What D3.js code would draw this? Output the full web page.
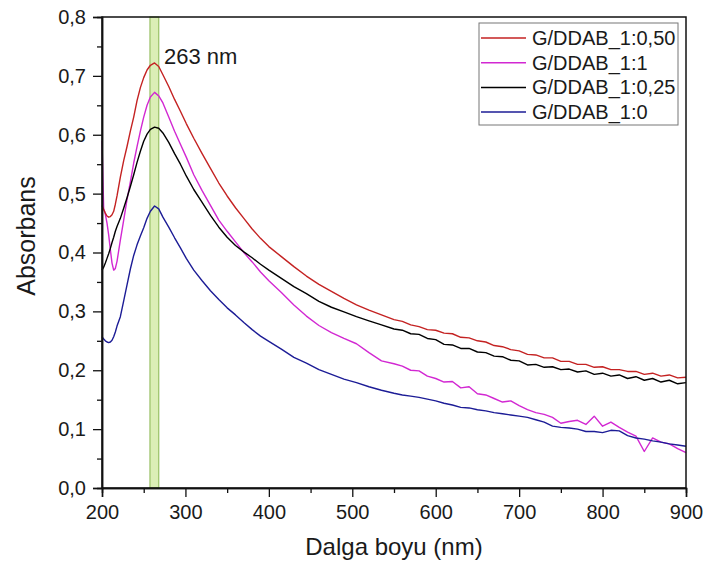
<!DOCTYPE html>
<html>
<head>
<meta charset="utf-8">
<script src="https://cdn.jsdelivr.net/npm/d3@7"></script>
<style>
  body { margin: 0; background: #fff; }
  text { font-family: "Liberation Sans", Arial, sans-serif; fill: #1a1a1a; }
</style>
</head>
<body>
<script>
// wavelength grid (nm) shared by all four spectra
var wavelength = [200,202,204,206,208,210,212,214,216,218,
  222,226,230,234,238,242,246,250,254,258,
  263,268,273,280,287,294,301,
  310,320,330,340,350,360,370,380,390,400,
  415,430,445,460,475,490,505,520,535,550,
  560,570,580,590,600,610,620,630,640,650,660,670,680,690,700,
  710,720,730,740,750,760,770,780,790,800,810,820,830,840,850,860,870,880,890,900];

var seriesNames = ["G/DDAB_1:0,50", "G/DDAB_1:1", "G/DDAB_1:0,25", "G/DDAB_1:0"];
var seriesColors = ["#c42222", "#d228d2", "#000000", "#1c1c96"];

var abs050 = [.480,.473,.467,.462,.460,.461,.464,.470,.482,.496,
  .528,.556,.580,.606,.630,.658,.680,.697,.710,.718,
  .722,.716,.702,.682,.660,.640,.619,
  .594,.568,.543,.518,.496,.476,.458,.440,.424,.410,
  .393,.376,.360,.346,.334,.322,.311,.302,.294,.286,
  .283,.277,.274,.269,.268,.263,.262,.256,.255,.250,.248,.242,.240,.235,.233,
  .227,.226,.221,.221,.215,.215,.210,.210,.205,.206,.201,.201,.198,.198,.193,.195,.190,.192,.187,.188];

var abs1 = [.590,.475,.465,.450,.430,.405,.382,.370,.373,.385,
  .421,.455,.490,.520,.552,.580,.606,.630,.650,.664,
  .672,.666,.654,.630,.606,.584,.562,
  .532,.505,.480,.455,.436,.418,.400,.384,.367,.352,
  .332,.311,.292,.276,.264,.254,.245,.230,.216,.211,
  .207,.200,.199,.190,.186,.180,.181,.170,.172,.160,.158,.152,.146,.148,.140,
  .133,.128,.125,.120,.110,.113,.115,.108,.122,.105,.112,.103,.095,.088,.062,.085,.078,.075,.067,.060];

var abs025 = [.370,.375,.382,.390,.398,.407,.417,.426,.436,.444,
  .458,.475,.493,.512,.532,.553,.572,.589,.601,.609,
  .613,.611,.603,.587,.568,.550,.530,
  .507,.485,.463,.443,.426,.412,.401,.391,.380,.370,
  .356,.342,.330,.317,.307,.299,.291,.284,.277,.270,
  .268,.262,.261,.254,.252,.244,.243,.237,.237,.231,.230,.224,.223,.217,.216,
  .209,.210,.205,.206,.201,.202,.197,.199,.193,.195,.190,.192,.186,.189,.183,.186,.180,.183,.177,.179];

var abs0 = [.257,.253,.250,.248,.247,.248,.251,.257,.265,.275,
  .291,.318,.345,.372,.395,.413,.428,.442,.458,.470,
  .479,.474,.460,.443,.425,.408,.390,
  .370,.352,.335,.320,.306,.294,.281,.269,.258,.249,
  .236,.222,.212,.201,.193,.185,.179,.172,.166,.161,
  .158,.156,.154,.151,.148,.144,.141,.137,.136,.133,.131,.128,.126,.124,.122,
  .120,.116,.112,.105,.103,.102,.100,.096,.096,.094,.098,.097,.089,.085,.083,.080,.078,.075,.073,.071];

var seriesValues = [abs050, abs1, abs025, abs0];
var drawOrder = [1, 3, 2, 0]; // red drawn last, on top

var peakBand = [257.5, 268];
var peakLabel = "263 nm";
var xTicks = [200, 300, 400, 500, 600, 700, 800, 900];
var yTicks = [0, 0.1, 0.2, 0.3, 0.4, 0.5, 0.6, 0.7, 0.8];

function init(){

    var W = 703, H = 567;
    var pl = 102, pr = 686, pt = 17, pb = 488;

    var svg = d3.select("body").append("svg")
        .attr("width", W)
        .attr("height", H);

    var x = d3.scaleLinear().domain([200, 900]).range([pl, pr]);
    var y = d3.scaleLinear().domain([0, 0.8]).range([pb, pt]);

    // highlighted peak band
    svg.append("rect")
        .attr("x", x(peakBand[0]))
        .attr("y", pt)
        .attr("width", x(peakBand[1]) - x(peakBand[0]))
        .attr("height", pb - pt)
        .attr("fill", "#dbeeb6")
        .attr("stroke", "#98c066")
        .attr("stroke-width", 1.2);

    var line = d3.line()
        .x(function(d){ return x(d[0]); })
        .y(function(d){ return y(d[1]); });

    drawOrder.forEach(function(k){
        var pts = wavelength.map(function(w, i){ return [w, seriesValues[k][i]]; });
        svg.append("path")
            .datum(pts)
            .attr("fill", "none")
            .attr("stroke", seriesColors[k])
            .attr("stroke-width", 1.4)
            .attr("stroke-linejoin", "round")
            .attr("d", line);
    });

    // frame
    svg.append("rect")
        .attr("x", pl).attr("y", pt)
        .attr("width", pr - pl).attr("height", pb - pt)
        .attr("fill", "none")
        .attr("stroke", "#111")
        .attr("stroke-width", 1.5);

    function comma(d){ return d3.format(".1f")(d).replace(".", ","); }

    // y axis
    svg.append("g")
        .attr("transform", "translate(" + pl + ",0)")
        .call(d3.axisLeft(y).tickValues(yTicks).tickSize(9).tickPadding(7).tickFormat(comma));
    svg.append("g")
        .attr("transform", "translate(" + pl + ",0)")
        .call(d3.axisLeft(y).tickValues(d3.range(0.05, 0.8, 0.1)).tickSize(5).tickFormat(""));

    // x axis
    svg.append("g")
        .attr("transform", "translate(0," + pb + ")")
        .call(d3.axisBottom(x).tickValues(xTicks).tickSize(9).tickPadding(8).tickFormat(d3.format("d")));
    svg.append("g")
        .attr("transform", "translate(0," + pb + ")")
        .call(d3.axisBottom(x).tickValues(d3.range(250, 900, 100)).tickSize(5).tickFormat(""));

    svg.selectAll(".domain").attr("stroke", "#111").attr("stroke-width", 1.5);
    svg.selectAll(".tick line").attr("stroke", "#111").attr("stroke-width", 1.3);
    svg.selectAll(".tick text")
        .style("font-family", "'Liberation Sans', Arial, sans-serif")
        .style("font-size", "20px")
        .attr("fill", "#1a1a1a");

    // axis titles
    svg.append("text")
        .attr("x", (pl + pr) / 2)
        .attr("y", 555)
        .attr("text-anchor", "middle")
        .style("font-size", "24px")
        .text("Dalga boyu (nm)");

    svg.append("text")
        .attr("transform", "translate(35,236) rotate(-90)")
        .attr("text-anchor", "middle")
        .style("font-size", "25px")
        .text("Absorbans");

    // peak label
    svg.append("text")
        .attr("x", 164)
        .attr("y", 64)
        .style("font-size", "22px")
        .text(peakLabel);

    // legend
    var legend = svg.append("g");
    legend.append("rect")
        .attr("x", 479).attr("y", 23)
        .attr("width", 199).attr("height", 102)
        .attr("fill", "#fff")
        .attr("stroke", "#777")
        .attr("stroke-width", 1);

    seriesNames.forEach(function(name, i){
        var cy = 38 + i * 24.7;
        legend.append("line")
            .attr("x1", 481).attr("x2", 526)
            .attr("y1", cy).attr("y2", cy)
            .attr("stroke", seriesColors[i])
            .attr("stroke-width", 1.5);
        legend.append("text")
            .attr("x", 532)
            .attr("y", cy + 7)
            .style("font-size", "20px")
            .text(name);
    });
}

window.onload = init;
</script>
</body>
</html>
